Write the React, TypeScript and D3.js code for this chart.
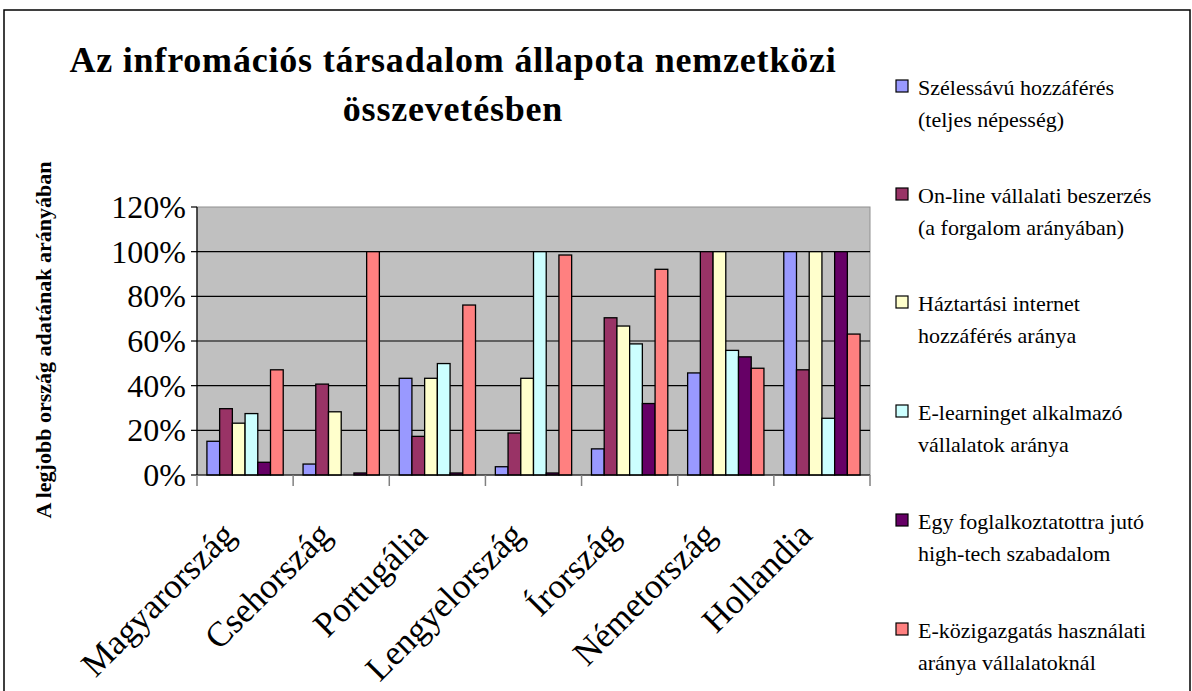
import React from "react";
import * as d3 from "d3";

const categories = ["Magyarország", "Csehország", "Portugália", "Lengyelország", "Írország", "Németország", "Hollandia"];
const seriesNames = [
  ["Szélessávú hozzáférés", "(teljes népesség)"],
  ["On-line vállalati beszerzés", "(a forgalom arányában)"],
  ["Háztartási internet", "hozzáférés aránya"],
  ["E-learninget alkalmazó", "vállalatok aránya"],
  ["Egy foglalkoztatottra jutó", "high-tech szabadalom"],
  ["E-közigazgatás használati", "aránya vállalatoknál"],
];
const colors = ["#9999FF", "#993366", "#FFFFCC", "#CCFFFF", "#660066", "#FF8080"];
const s1 = [15.1, 4.9, 43.3, 3.7, 11.7, 45.7, 100];
const s2 = [29.7, 40.7, 17.3, 18.8, 70.4, 100, 47.1];
const s3 = [23.2, 28.3, 43.3, 43.3, 66.7, 100, 100];
const s4 = [27.5, 0, 49.9, 100, 58.7, 55.8, 25.4];
const s5 = [5.7, 0.9, 0.9, 0.9, 32, 52.9, 100];
const s6 = [47.1, 100, 76.1, 98.5, 92.1, 47.8, 63.1];
const seriesValues = [s1, s2, s3, s4, s5, s6];
const yTicks = [0, 20, 40, 60, 80, 100, 120];

export default function App() {
  const W = 1192, H = 691;
  const left = 197, right = 870, top = 207, bottom = 475;
  const x = d3.scaleBand<string>().domain(categories).range([left, right]).paddingInner(0).paddingOuter(0);
  const inner = d3.scaleBand<number>().domain(d3.range(6)).range([0, x.bandwidth()]).paddingInner(0).paddingOuter(0.78);
  const y = d3.scaleLinear().domain([0, 120]).range([bottom, top]);
  const serif = "'Liberation Serif', 'DejaVu Serif', serif";
  const legendY = [88, 196, 304, 413, 522, 631];
  return (
    <svg width={W} height={H} style={{ position: "absolute", left: 0, top: 0, background: "#fff" }} fontFamily={serif}>
      <rect x={4} y={10} width={1186} height={700} fill="#fff" stroke="#000" strokeWidth={1.5} />
      <text x={453} y={72} textAnchor="middle" fontSize={36} letterSpacing={0.8} fontWeight="bold">Az infromációs társadalom állapota nemzetközi</text>
      <text x={453} y={121} textAnchor="middle" fontSize={36} letterSpacing={0.8} fontWeight="bold">összevetésben</text>
      <rect x={left} y={top} width={right - left} height={bottom - top} fill="#C0C0C0" stroke="#909090" strokeWidth={1} />
      {yTicks.slice(1, -1).map((t) => (
        <line key={t} x1={left} x2={right} y1={y(t)} y2={y(t)} stroke="#000" strokeWidth={1.2} />
      ))}
      {categories.map((c, ci) => (
        <g key={c}>
          {seriesValues.map((vals, si) => {
            const v = vals[ci];
            if (v <= 0) return null;
            const bx = (x(c) as number) + (inner(si) as number);
            return (
              <rect key={si} x={bx} y={y(v)} width={inner.bandwidth()} height={y(0) - y(v)} fill={colors[si]} stroke="#000" strokeWidth={1.3} />
            );
          })}
        </g>
      ))}
      <line x1={left} x2={left} y1={top} y2={bottom} stroke="#000" strokeWidth={1.2} />
      <line x1={left} x2={right} y1={bottom} y2={bottom} stroke="#000" strokeWidth={1.2} />
      {yTicks.map((t) => (
        <g key={t}>
          <line x1={left - 6} x2={left} y1={y(t)} y2={y(t)} stroke="#000" strokeWidth={1.2} />
          <text x={left - 11} y={y(t) + 11} textAnchor="end" fontSize={32}>{t}%</text>
        </g>
      ))}
      {categories.map((c, i) => (
        <line key={"t" + i} x1={(x(c) as number)} x2={(x(c) as number)} y1={bottom} y2={bottom + 11} stroke="#808080" strokeWidth={1.5} />
      ))}
      <line x1={right} x2={right} y1={bottom} y2={bottom + 11} stroke="#808080" strokeWidth={1.5} />
      {categories.map((c) => {
        const cx = (x(c) as number) + x.bandwidth() / 2 - 8;
        const cy = bottom + 62;
        return (
          <text key={"l" + c} x={cx} y={cy} textAnchor="end" fontSize={35} transform={`rotate(-45 ${cx} ${cy})`}>{c}</text>
        );
      })}
      <text transform="translate(51 340) rotate(-90)" textAnchor="middle" fontSize={22} fontWeight="bold">A legjobb ország adatának arányában</text>
      {seriesNames.map((n, i) => (
        <g key={"lg" + i}>
          <rect x={896} y={legendY[i] - 8} width={12} height={12} fill={colors[i]} stroke="#000" strokeWidth={1.2} />
          <text x={918} y={legendY[i] + 7} fontSize={22}>{n[0]}</text>
          <text x={918} y={legendY[i] + 39} fontSize={22}>{n[1]}</text>
        </g>
      ))}
    </svg>
  );
}
